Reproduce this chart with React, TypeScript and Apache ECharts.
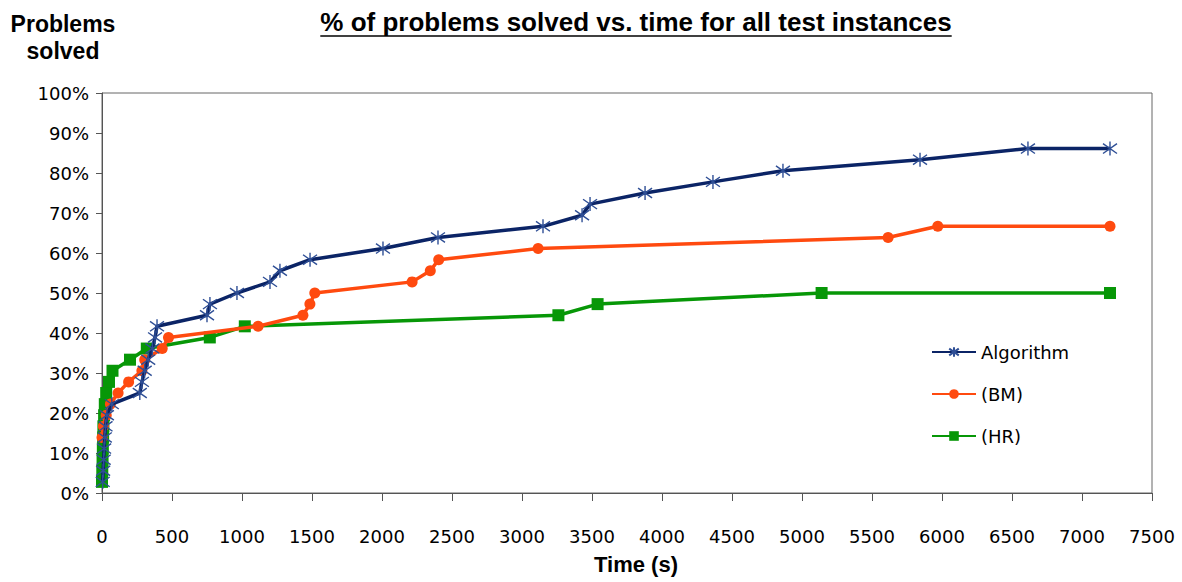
import React, { useEffect, useRef } from "react";
import * as echarts from "echarts";

// ---- Data (time in seconds, % of problems solved) ----
const algoTime = [5, 8, 12, 15, 20, 25, 35, 70, 270, 285, 305, 330, 360, 379, 393, 750, 771, 964, 1200, 1271, 1486, 2007, 2400, 3150, 3429, 3486, 3879, 4364, 4864, 5843, 6614, 7200];
const algoPct = [2.78, 5.56, 8.33, 11.11, 13.89, 16.67, 19.44, 22.22, 25, 27.78, 30.56, 33.33, 36.11, 38.89, 41.67, 44.44, 47.22, 50, 52.78, 55.56, 58.33, 61.11, 63.89, 66.67, 69.44, 72.22, 75, 77.78, 80.56, 83.33, 86.11, 86.11];

const bmTime = [0, 10, 30, 60, 115, 190, 285, 305, 430, 475, 1115, 1435, 1485, 1520, 2215, 2345, 2405, 3115, 5615, 5970, 7200];
const bmPct = [13.89, 16.67, 19.44, 22.22, 25, 27.78, 30.56, 33.33, 36.11, 38.89, 41.67, 44.44, 47.22, 50, 52.78, 55.56, 58.33, 61.11, 63.89, 66.67, 66.67];

const hrTime = [0, 2, 4, 6, 8, 10, 15, 20, 30, 50, 75, 200, 320, 770, 1020, 3260, 3540, 5140, 7200];
const hrPct = [2.78, 5.56, 8.33, 11.11, 13.89, 16.67, 19.44, 22.22, 25, 27.78, 30.56, 33.33, 36.11, 38.89, 41.67, 44.44, 47.22, 50, 50];

const seriesNames = ["Algorithm", "(BM)", "(HR)"];
const chartTitle = "% of problems solved vs. time for all test instances";
const yTitleLines = ["Problems", "solved"];
const xTitle = "Time (s)";

const zip = (xs: number[], ys: number[]) => xs.map((x, i) => [x, ys[i]]);

const STAR = "path://M10,0 L10,20 M3,3 L17,17 M3,17 L17,3";

export default function App() {
  const ref = useRef<HTMLDivElement>(null);
  useEffect(() => {
    if (!ref.current) return;
    const chart = echarts.init(ref.current, null, { renderer: "svg" });

    const titleSize = 26;
    const titleFont = `bold ${titleSize}px "Liberation Sans", Arial, sans-serif`;
    let titleW = 637;
    const cv = document.createElement("canvas").getContext("2d");
    if (cv) {
      cv.font = titleFont;
      titleW = cv.measureText(chartTitle).width;
    }
    const titleCx = 636;
    const titleY = 9;

    const axisColor = "#555";
    const tickFont = { fontFamily: "DejaVu Sans", fontSize: 18, color: "#000" };

    chart.setOption({
      animation: false,
      grid: { left: 102, right: 30, top: 93, bottom: 89, show: true, borderColor: "#666", borderWidth: 1, backgroundColor: "transparent" },
      xAxis: {
        type: "value", min: 0, max: 7500, interval: 500,
        axisLine: { show: true, onZero: false, lineStyle: { color: axisColor, width: 1 } },
        axisTick: { show: true, length: 8, lineStyle: { color: axisColor } },
        axisLabel: { ...tickFont, margin: 34, formatter: (v: number) => String(v) },
        splitLine: { show: false },
      },
      yAxis: {
        type: "value", min: 0, max: 100, interval: 10,
        axisLine: { show: true, lineStyle: { color: axisColor, width: 1 } },
        axisTick: { show: true, length: 6, lineStyle: { color: axisColor } },
        axisLabel: { ...tickFont, margin: 13, formatter: "{value}%" },
        splitLine: { show: false },
      },
      legend: {
        orient: "vertical", left: 926, top: 337,
        itemWidth: 44, itemHeight: 12, itemGap: 22,
        textStyle: { fontFamily: "DejaVu Sans", fontSize: 18, color: "#000", lineHeight: 20 },
        data: seriesNames,
      },
      graphic: [
        { type: "text", left: titleCx - titleW / 2, top: titleY, style: { text: chartTitle, font: titleFont, fill: "#000" } },
        { type: "line", shape: { x1: titleCx - titleW / 2, y1: titleY + titleSize + 1, x2: titleCx + titleW / 2, y2: titleY + titleSize + 1 }, style: { stroke: "#000", lineWidth: 1.6 } },
        { type: "text", x: 63, y: 10, style: { text: yTitleLines.join("\n"), font: `bold 23px "Liberation Sans", Arial, sans-serif`, fill: "#000", textAlign: "center", lineHeight: 27 } },
        { type: "text", x: 636, y: 553, style: { text: xTitle, font: `bold 22px "Liberation Sans", Arial, sans-serif`, fill: "#000", textAlign: "center" } },
      ],
      series: [
        {
          name: seriesNames[0], type: "line", z: 4, data: zip(algoTime, algoPct),
          symbol: STAR, symbolSize: 14, showAllSymbol: true,
          lineStyle: { color: "#0b2466", width: 3.5 },
          itemStyle: { color: "#0b2466", borderColor: "#2f4f96", borderWidth: 1.4 },
        },
        {
          name: seriesNames[1], type: "line", z: 3, data: zip(bmTime, bmPct),
          symbol: "circle", symbolSize: 11, showAllSymbol: true,
          lineStyle: { color: "#ff4a0f", width: 3.5 },
          itemStyle: { color: "#ff4a0f" },
        },
        {
          name: seriesNames[2], type: "line", z: 2, data: zip(hrTime, hrPct),
          symbol: "rect", symbolSize: 12, showAllSymbol: true,
          lineStyle: { color: "#079707", width: 3.5 },
          itemStyle: { color: "#079707" },
        },
      ],
    });
    return () => chart.dispose();
  }, []);
  return <div ref={ref} style={{ position: "absolute", left: 0, top: 0, width: 1182, height: 582, background: "#fff" }} />;
}
